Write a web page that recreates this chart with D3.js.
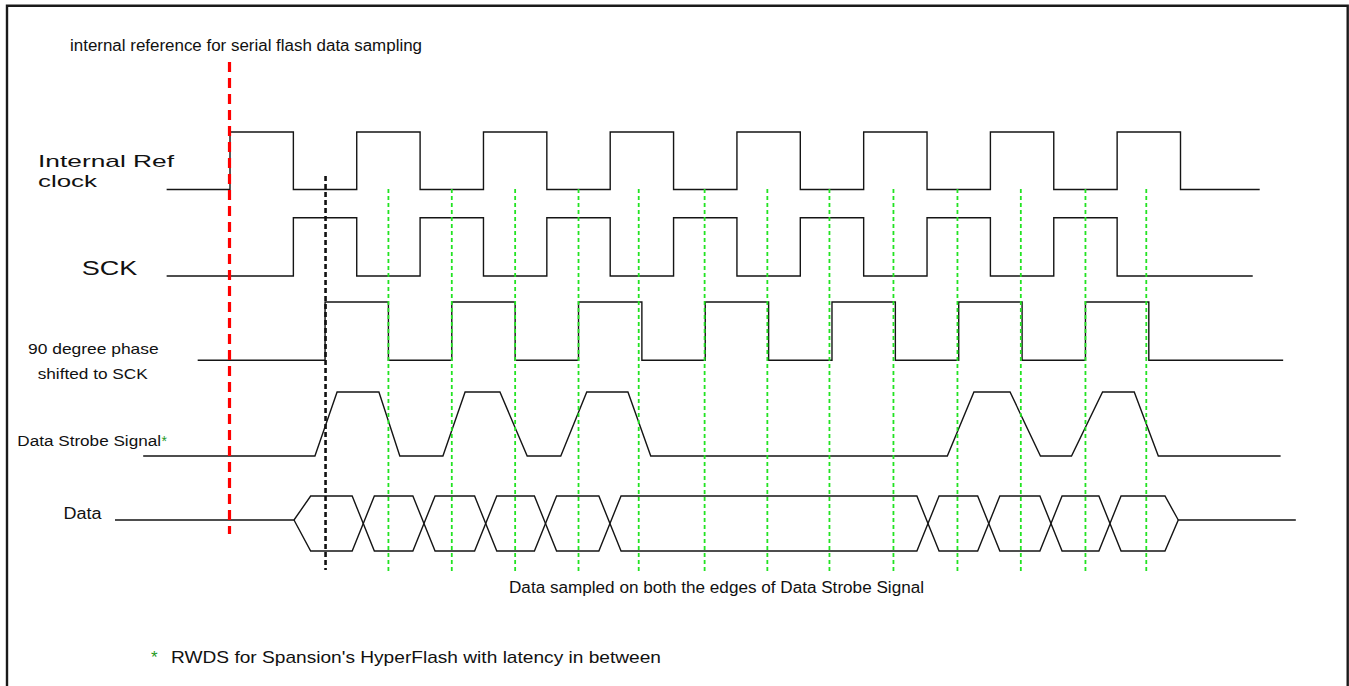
<!DOCTYPE html>
<html><head><meta charset="utf-8">
<script src="https://cdn.jsdelivr.net/npm/d3@7"></script>
<style>
html,body{margin:0;padding:0;background:#fff;}
svg{display:block;}
text{font-family:"Liberation Sans", Arial, Helvetica, sans-serif; fill:#111;}
</style>
</head><body>
<svg id="chart" width="1349" height="686"></svg>
<script>
// ---------------- DATA (time in half-periods of the internal reference clock) ----------------
const laneNames = ["Internal Ref clock", "SCK", "90 degree phase shifted to SCK", "Data Strobe Signal", "Data"];
const laneLabelLines = [["Internal Ref", "clock"], ["SCK"], ["90 degree phase", "shifted to SCK"], ["Data Strobe Signal"], ["Data"]];

const refClockSpan = [-1.0, 16.25];
const refClockEdges = [0, 1, 2, 3, 4, 5, 6, 7, 8, 9, 10, 11, 12, 13, 14, 15];

const sckSpan = [-1.0, 16.14];
const sckEdges = [1, 2, 3, 4, 5, 6, 7, 8, 9, 10, 11, 12, 13, 14];

const phaseSpan = [-0.51, 16.62];
const phaseEdges = [1.5, 2.5, 3.5, 4.5, 5.5, 6.5, 7.5, 8.5, 9.5, 10.5, 11.5, 12.5, 13.5, 14.5];

// Data strobe: vertices (time, level)
const strobeTimes  = [-1.37, 1.34, 1.69, 2.35, 2.68, 3.36, 3.71, 4.26, 4.69, 5.22, 5.63, 6.28, 6.64, 11.32, 11.74, 12.31, 12.79, 13.28, 13.77, 14.27, 14.65, 16.58];
const strobeLevels = [0,     0,    1,    1,    0,    0,    1,    1,    0,    0,    1,    1,    0,    0,     1,     1,     0,     0,     1,     1,     0,     0];

// Data bus
const dataSpan = [-1.815, 16.82];
const dataOpen = 1.01;
const dataClose = 14.965;
const dataCrossings = [2.103, 3.061, 4.035, 4.979, 5.996, 11.015, 11.974, 12.956, 13.887];

// Markers
const referenceMarker = [0];          // red dashed
const captureMarker = [1.5];          // black dashed
const sampleTimes = [2.5, 3.5, 4.5, 5.5, 6.45, 7.49, 8.48, 9.46, 10.47, 11.48, 12.48, 13.5, 14.46]; // green dotted

const annotations = ["internal reference for serial flash data sampling",
                     "Data sampled on both the edges of Data Strobe Signal",
                     "RWDS for Spansion's HyperFlash with latency in between"];

// ---------------- LAYOUT ----------------
const svg = d3.select("#chart");
const x = d3.scaleLinear().domain([0, 15]).range([230, 1180.5]);
const lanes = [
  {low: 189.5, high: 132},
  {low: 276, high: 217.7},
  {low: 360.3, high: 302},
  {low: 456, high: 392},
  {bottom: 551, mid: 520, top: 496}
];
const ink = "#151515";
const sw = 1.4;

// frame
svg.append("path")
  .attr("d", "M7,686 L7,5.7 L1347.7,5.7 L1347.7,686")
  .attr("fill", "none").attr("stroke", "#1a1a1a").attr("stroke-width", 2.4);

const line = d3.line();

function stepPoints(span, edges, lane) {
  const y = d3.scaleLinear().domain([0, 1]).range([lane.low, lane.high]);
  let lvl = 0;
  const pts = [[x(span[0]), y(lvl)]];
  edges.forEach(e => { pts.push([x(e), y(lvl)]); lvl = 1 - lvl; pts.push([x(e), y(lvl)]); });
  pts.push([x(span[1]), y(lvl)]);
  return pts;
}

const g = svg.append("g").attr("fill", "none").attr("stroke", ink).attr("stroke-width", sw);

g.append("path").attr("d", line(stepPoints(refClockSpan, refClockEdges, lanes[0])));
g.append("path").attr("d", line(stepPoints(sckSpan, sckEdges, lanes[1])));
g.append("path").attr("d", line(stepPoints(phaseSpan, phaseEdges, lanes[2])));

// strobe
{
  const y = d3.scaleLinear().domain([0, 1]).range([lanes[3].low, lanes[3].high]);
  const pts = strobeTimes.map((t, i) => [x(t), y(strobeLevels[i])]);
  g.append("path").attr("d", line(pts));
}

// data bus
{
  const L = lanes[4];
  const y = d3.scaleLinear().domain([-1, 0, 1]).range([L.bottom, L.mid, L.top]);
  const openRamp = 0.263, closeRamp = 0.21, h = 0.175;
  function trace(sign, withIdle) {
    const pts = [];
    if (withIdle) pts.push([dataSpan[0], 0]);
    pts.push([dataOpen, 0]);
    let s = sign;
    pts.push([dataOpen + openRamp, s]);
    dataCrossings.forEach(c => { pts.push([c - h, s]); s = -s; pts.push([c + h, s]); });
    pts.push([dataClose - closeRamp, s]);
    pts.push([dataClose, 0]);
    if (withIdle) pts.push([dataSpan[1], 0]);
    return pts.map(p => [x(p[0]), y(p[1])]);
  }
  g.append("path").attr("d", line(trace(1, true)));
  g.append("path").attr("d", line(trace(-1, false)));
}

// markers
svg.selectAll("line.red").data(referenceMarker).enter().append("line")
  .attr("x1", d => x(d) - 0.5).attr("x2", d => x(d) - 0.5)
  .attr("y1", 62).attr("y2", 534)
  .attr("stroke", "#ff0000").attr("stroke-width", 3.2).attr("stroke-dasharray", "10,6");

svg.selectAll("line.blk").data(captureMarker).enter().append("line")
  .attr("x1", d => x(d) + 0.5).attr("x2", d => x(d) + 0.5)
  .attr("y1", 176).attr("y2", 570)
  .attr("stroke", "#111").attr("stroke-width", 2.6).attr("stroke-dasharray", "5,3");

svg.selectAll("line.grn").data(sampleTimes).enter().append("line")
  .attr("x1", d => x(d)).attr("x2", d => x(d))
  .attr("y1", 189).attr("y2", 571)
  .attr("stroke", "#22e322").attr("stroke-width", 1.8).attr("stroke-dasharray", "4,3");

// ---------------- TEXT ----------------
function label(str, xp, yp, size, len) {
  const t = svg.append("text").attr("x", xp).attr("y", yp).attr("font-size", size).text(str);
  if (len) t.attr("textLength", len).attr("lengthAdjust", "spacingAndGlyphs");
  return t;
}
label(annotations[0], 70, 50.7, 16, 352);

label(laneLabelLines[0][0], 38, 167.3, 17, 136);
label(laneLabelLines[0][1], 38, 187, 17, 59);
label(laneLabelLines[1][0], 81.7, 275, 21, 55.6);
label(laneLabelLines[2][0], 28, 354, 15, 130.7);
label(laneLabelLines[2][1], 37.7, 379, 15, 110);
label(laneLabelLines[3][0], 17.3, 445.7, 15.5, 143.7);
svg.append("text").attr("x", 161.5).attr("y", 446).attr("font-size", 14).style("fill", "#1f9a1f").text("*");
label(laneLabelLines[4][0], 63.4, 519.3, 16, 38);

label(annotations[1], 509, 593.3, 16, 415);
svg.append("text").attr("x", 151).attr("y", 663).attr("font-size", 17).style("fill", "#1f9a1f").text("*");
label(annotations[2], 171, 663.3, 17, 490);
</script>
</body></html>
